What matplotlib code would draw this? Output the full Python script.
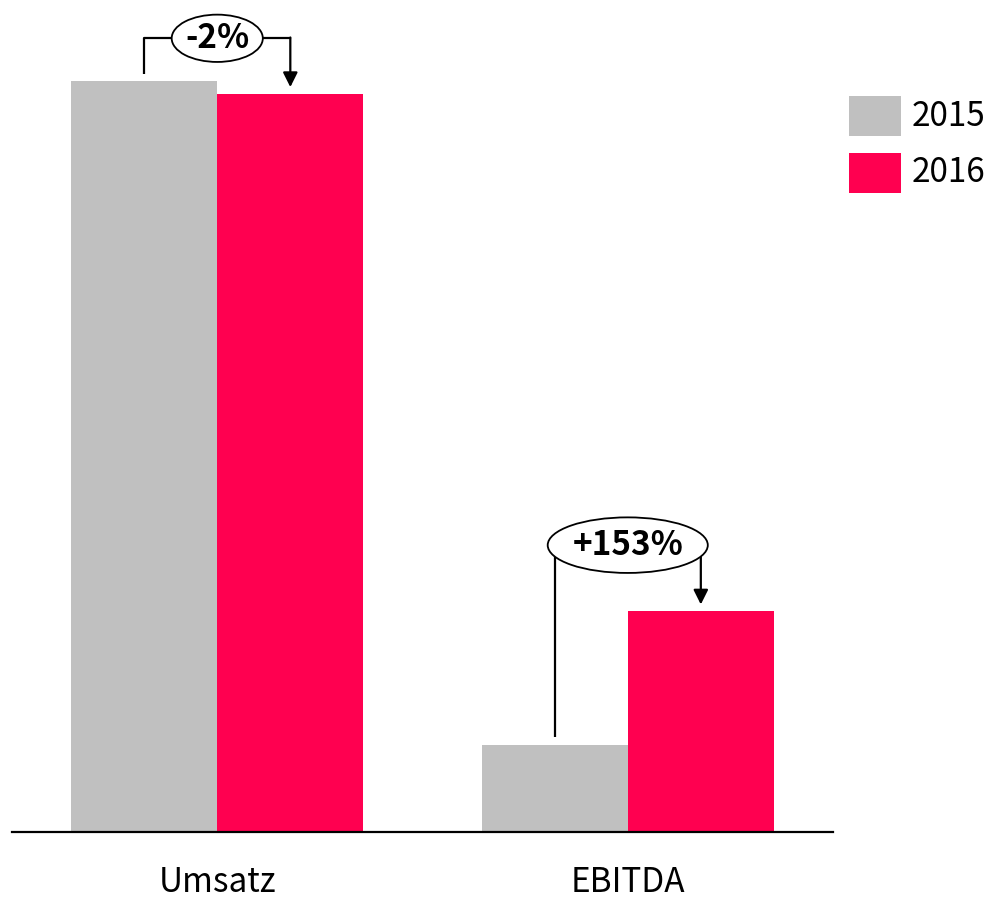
import matplotlib
matplotlib.use("Agg")
import matplotlib.pyplot as plt
from matplotlib.patches import Ellipse, Rectangle

plt.rcParams["font.family"] = ["Noto Sans CJK SC", "DejaVu Sans"]

categories = ["Umsatz", "EBITDA"]
years = ["2015", "2016"]
values_2015 = [100.0, 11.6]
values_2016 = [98.3, 29.4]
changes = ["-2%", "+153%"]
colors = ["#C0C0C0", "#FF0050"]

fig = plt.figure(figsize=(9.89, 8.97), dpi=100)
ax = fig.add_axes([12 / 989, 65 / 897, 821 / 989, 832 / 897])

w = 0.356
xs = [0, 1]
ax.bar([x - w / 2 for x in xs], values_2015, w, color=colors[0], label=years[0])
ax.bar([x + w / 2 for x in xs], values_2016, w, color=colors[1], label=years[1])

ax.set_xlim(-0.5, 1.5)
ax.set_ylim(0, 110.8)
ax.set_xticks(xs)
ax.set_xticklabels(categories, fontsize=24)
ax.tick_params(axis="x", length=0, pad=24)
ax.set_yticks([])
for s in ["top", "left", "right"]:
    ax.spines[s].set_visible(False)
ax.spines["bottom"].set_linewidth(1.6)

# change brackets: (ellipse y, ellipse width, ellipse height)
brackets = [(105.7, 0.222, 6.3), (38.2, 0.39, 7.4)]
lw = 1.6
for i, (ey, ew, eh) in enumerate(brackets):
    x0 = xs[i] - w / 2
    x1 = xs[i] + w / 2
    ax.plot([x0, x0, xs[i]], [values_2015[i] + 1.0, ey, ey], color="black", lw=lw,
            solid_capstyle="butt", zorder=3)
    ax.plot([xs[i], x1], [ey, ey], color="black", lw=lw, zorder=3)
    ax.annotate("", xy=(x1, values_2016[i] + 0.9), xytext=(x1, ey + 0.1),
                arrowprops=dict(arrowstyle="-|>", color="black", lw=lw,
                                mutation_scale=22, shrinkA=0, shrinkB=0),
                zorder=3)
    ax.add_patch(Ellipse((xs[i], ey), ew, eh, facecolor="white", edgecolor="black",
                         lw=1.3, zorder=4))
    ax.text(xs[i], ey, changes[i], ha="center", va="center", fontsize=24,
            fontweight="bold", zorder=5)

# legend, placed by hand in figure pixels
for j, (yr, c) in enumerate(zip(years, colors)):
    top = 96 + j * 57
    fig.patches.append(Rectangle((849 / 989, 1 - (top + 40) / 897), 52 / 989, 40 / 897,
                                 transform=fig.transFigure, facecolor=c,
                                 edgecolor="none"))
    fig.text(912 / 989, 1 - (top + 20) / 897, yr, fontsize=24, ha="left",
             va="center")

fig.savefig("out.png", dpi=100)
